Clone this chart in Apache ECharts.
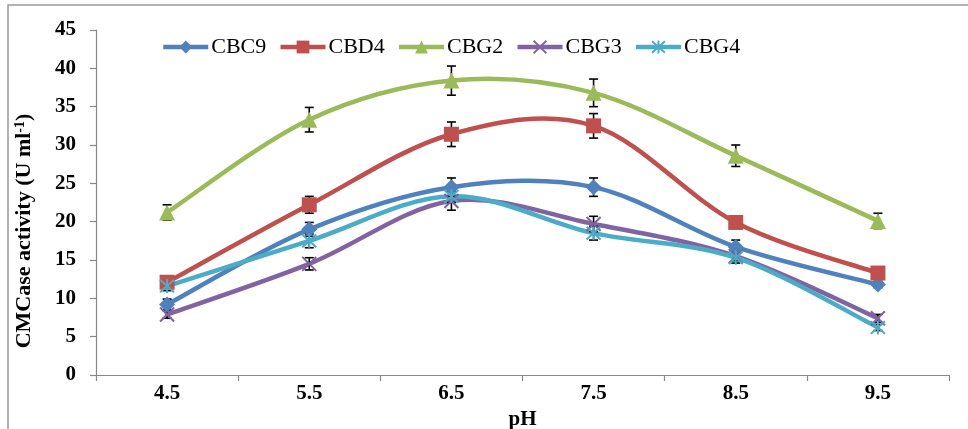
<!DOCTYPE html>
<html>
<head>
<meta charset="utf-8">
<script src="https://cdn.jsdelivr.net/npm/echarts@6/dist/echarts.min.js"></script>
<style>
html,body{margin:0;padding:0;background:#fff;}
#chart{width:968px;height:429px;}
</style>
</head>
<body>
<div id="chart"></div>
<script>
const categories = ['4.5', '5.5', '6.5', '7.5', '8.5', '9.5'];
const yTicks = [0, 5, 10, 15, 20, 25, 30, 35, 40, 45];

const cbc9    = [9.2, 19.0, 24.5, 24.5, 16.7, 11.8];
const cbc9Err = [0.7, 0.9, 1.2, 1.2, 0.9, 0.4];
const cbd4    = [12.1, 22.2, 31.4, 32.5, 19.9, 13.3];
const cbd4Err = [0.5, 1.1, 1.6, 1.6, 0.5, 0.5];
const cbg2    = [21.2, 33.3, 38.4, 36.8, 28.6, 20.1];
const cbg2Err = [1.0, 1.6, 1.9, 1.8, 1.4, 1.0];
const cbg3    = [7.9, 14.5, 22.7, 19.7, 15.5, 7.4];
const cbg3Err = [0.5, 0.8, 1.2, 1.0, 0.6, 0.5];
const cbg4    = [11.6, 17.5, 23.3, 18.5, 15.3, 6.2];
const cbg4Err = [0.6, 0.9, 0.8, 0.9, 0.7, 0.4];

const seriesNames = ['CBC9', 'CBD4', 'CBG2', 'CBG3', 'CBG4'];
const seriesValues = [cbc9, cbd4, cbg2, cbg3, cbg4];
const seriesErrors = [cbc9Err, cbd4Err, cbg2Err, cbg3Err, cbg4Err];
const colors = ['#4F81BD', '#C0504D', '#9BBB59', '#8064A2', '#4BACC6'];
const symbols = [
  'diamond',
  'rect',
  'triangle',
  'path://M0,0 L10,10 M10,0 L0,10',
  'path://M5,0 L5,10 M0.5,0.5 L9.5,9.5 M9.5,0.5 L0.5,9.5'
];
const symbolSizes = [16, 15, 16, 14, 14];

const FONT = '"Liberation Serif", "Times New Roman", serif';
const LINE_W = 4.5;

const series = [];
// smooth curves (Excel-like Catmull-Rom spline) drawn through the axes
seriesNames.forEach((name, k) => {
  const vals = seriesValues[k];
  series.push({
    name: name + ' curve',
    type: 'custom',
    data: vals.map((v, i) => [i, v]),
    encode: { x: 0, y: 1 },
    z: 2 + k,
    silent: true,
    animation: false,
    clip: false,
    renderItem: function (params, api) {
      const i = params.dataIndex;
      const n = vals.length;
      if (i >= n - 1) return null;
      const P = (j) => {
        const jj = Math.max(0, Math.min(n - 1, j));
        return api.coord([jj, vals[jj]]);
      };
      const p0 = P(i - 1), p1 = P(i), p2 = P(i + 1), p3 = P(i + 2);
      const t = 1 / 6;
      return {
        type: 'bezierCurve',
        shape: {
          x1: p1[0], y1: p1[1],
          cpx1: p1[0] + (p2[0] - p0[0]) * t, cpy1: p1[1] + (p2[1] - p0[1]) * t,
          cpx2: p2[0] - (p3[0] - p1[0]) * t, cpy2: p2[1] - (p3[1] - p1[1]) * t,
          x2: p2[0], y2: p2[1]
        },
        style: { stroke: colors[k], lineWidth: LINE_W, fill: null, lineCap: 'round' }
      };
    }
  });
});
// markers (line series; its own line hidden, legend shows line + marker)
seriesNames.forEach((name, k) => {
  const isPath = k >= 3;
  series.push({
    name: name,
    type: 'line',
    data: seriesValues[k],
    symbol: symbols[k],
    symbolSize: symbolSizes[k],
    showAllSymbol: true,
    color: colors[k],
    lineStyle: { width: LINE_W, color: colors[k], opacity: 0 },
    itemStyle: isPath
      ? { color: colors[k], borderColor: colors[k], borderWidth: 2 }
      : { color: colors[k] },
    z: 10 + k,
    animation: false
  });
});
// error bars (above the curves, under the markers)
seriesNames.forEach((name, k) => {
  series.push({
    name: name + ' err',
    type: 'custom',
    data: seriesValues[k].map((v, i) => [i, v, seriesErrors[k][i]]),
    encode: { x: 0, y: 1 },
    z: 8,
    silent: true,
    animation: false,
    renderItem: function (params, api) {
      const i = api.value(0), v = api.value(1), e = api.value(2);
      const top = api.coord([i, v + e]);
      const bot = api.coord([i, v - e]);
      const w = 4.5;
      const st = { stroke: '#000', lineWidth: 1.6, fill: null };
      return {
        type: 'group',
        children: [
          { type: 'line', shape: { x1: top[0], y1: top[1], x2: bot[0], y2: bot[1] }, style: st },
          { type: 'line', shape: { x1: top[0] - w, y1: top[1], x2: top[0] + w, y2: top[1] }, style: st },
          { type: 'line', shape: { x1: bot[0] - w, y1: bot[1], x2: bot[0] + w, y2: bot[1] }, style: st }
        ]
      };
    }
  });
});

const chart = echarts.init(document.getElementById('chart'));
chart.setOption({
  backgroundColor: '#fff',
  animation: false,
  grid: { left: 96, right: 19, top: 30, bottom: 54, containLabel: false, outerBoundsMode: 'none' },
  legend: {
    data: seriesNames,
    left: 156,
    top: 31,
    itemWidth: 45,
    itemHeight: 16,
    itemGap: 12,
    lineStyle: { opacity: 1, width: LINE_W },
    textStyle: { fontFamily: FONT, fontSize: 22, color: '#000', padding: [0, 0, 0, -2] }
  },
  xAxis: {
    type: 'category',
    data: categories,
    boundaryGap: true,
    name: 'pH',
    nameLocation: 'middle',
    nameGap: 30,
    nameTextStyle: { fontFamily: FONT, fontSize: 21, fontWeight: 'bold', color: '#000' },
    axisLine: { lineStyle: { color: '#888', width: 1.2 } },
    axisTick: { show: true, length: 6, alignWithLabel: false, lineStyle: { color: '#888', width: 1.2 } },
    axisLabel: { fontFamily: FONT, fontSize: 21, fontWeight: 'bold', color: '#000', margin: 8 },
    splitLine: { show: false }
  },
  yAxis: {
    type: 'value',
    min: yTicks[0],
    max: yTicks[yTicks.length - 1],
    interval: 5,
    axisLine: { show: true, lineStyle: { color: '#888', width: 1.2 } },
    axisTick: { show: true, length: 6, lineStyle: { color: '#888', width: 1.2 } },
    axisLabel: { fontFamily: FONT, fontSize: 21, fontWeight: 'bold', color: '#000', margin: 20 },
    splitLine: { show: false }
  },
  graphic: [
    {
      type: 'rect',
      shape: { x: 8, y: 5, width: 1000, height: 500 },
      style: { fill: null, stroke: '#999', lineWidth: 1.5 },
      silent: true
    },
    {
      type: 'text',
      x: 24,
      y: 231,
      rotation: Math.PI / 2,
      style: {
        text: '{a|CMCase activity (U ml}{s|-1}{a|)}',
        align: 'center',
        verticalAlign: 'middle',
        rich: {
          a: { fontFamily: FONT, fontSize: 22, fontWeight: 'bold', fill: '#000', color: '#000' },
          s: { fontFamily: FONT, fontSize: 14, fontWeight: 'bold', fill: '#000', color: '#000', verticalAlign: 'top', padding: [0, 0, 8, 0] }
        }
      }
    }
  ],
  series: series
});
</script>
</body>
</html>
